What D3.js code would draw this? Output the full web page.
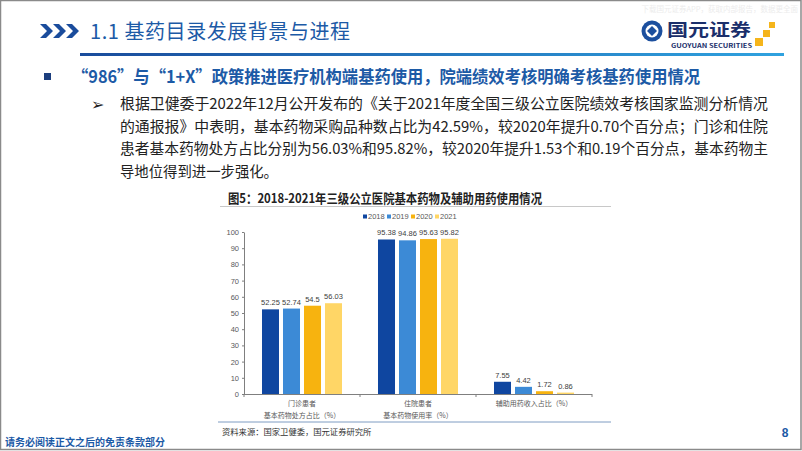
<!DOCTYPE html>
<html><head><meta charset="utf-8">
<script src="https://cdn.jsdelivr.net/npm/d3@7"></script>
<style>
html,body{margin:0;padding:0;background:#fff;}
svg{display:block;font-family:"Noto Sans CJK SC","Noto Sans",sans-serif;}
</style></head>
<body><svg id="c" width="802" height="451"></svg>
<script>
const categories = [["门诊患者","基本药物处方占比（%）"],["住院患者","基本药物使用率（%）"],["辅助用药收入占比（%）"]];
const years = ["2018","2019","2020","2021"];
const values2018 = [52.25, 95.38, 7.55];
const values2019 = [52.74, 94.86, 4.42];
const values2020 = [54.5, 95.63, 1.72];
const values2021 = [56.03, 95.82, 0.86];
const yTicks = [0,10,20,30,40,50,60,70,80,90,100];
const colors = ["#0F46A0","#3C8AD6","#F7B30F","#FFD666"];

const series = [values2018, values2019, values2020, values2021];
const svg = d3.select("#c");

// page frame
svg.append("rect").attr("x",0.5).attr("y",0.5).attr("width",800.5).attr("height",449).attr("fill","none").attr("stroke","#8a8a8a").attr("stroke-width",1.5);

// header chevrons
const chev = svg.append("g").attr("fill","#1A4C9C");
[40,53,66].forEach(x=>{
  chev.append("path").attr("d",`M${x},24 L${x+6},24 L${x+13},31 L${x+6},38 L${x},38 L${x+7},31 Z`);
});
svg.append("text").attr("x",90).attr("y",39).attr("font-size",20).attr("fill","#1C5AA6").attr("textLength",260).attr("lengthAdjust","spacing").text("1.1 基药目录发展背景与进程");

// header gradient line
const defs = svg.append("defs");
const lg = defs.append("linearGradient").attr("id","hg");
lg.append("stop").attr("offset","0%").attr("stop-color","#1A4C9C");
lg.append("stop").attr("offset","100%").attr("stop-color","#2FA2DF");
svg.append("rect").attr("x",80).attr("y",53).attr("width",704).attr("height",3).attr("fill","url(#hg)");

// watermark
svg.append("text").attr("x",798).attr("y",12).attr("text-anchor","end").attr("font-size",7.5).attr("fill","#ececec").text("下载国元证券APP，获取内部报告，数据更全面");

// logo
const lgG = svg.append("g");
lgG.append("circle").attr("cx",652).attr("cy",31).attr("r",10.5).attr("fill","#1C4F9E");
lgG.append("circle").attr("cx",652).attr("cy",31).attr("r",6.5).attr("fill","#fff");
lgG.append("path").attr("d","M652,26 L657,31 L652,36 L647,31 Z").attr("fill","#1C4F9E");
lgG.append("text").attr("x",667).attr("y",36).attr("font-size",17).attr("font-weight",700).attr("fill","#1B2F6B").attr("textLength",84).attr("lengthAdjust","spacingAndGlyphs").text("国元证券");
lgG.append("text").attr("x",671).attr("y",47.5).attr("font-size",6).attr("font-weight",700).attr("fill","#1B2F6B").attr("textLength",81).attr("lengthAdjust","spacingAndGlyphs").text("GUOYUAN SECURITIES");
[[755,38,8],[763,30,7],[769,22,6]].forEach(([x,y,s])=>lgG.append("rect").attr("x",x).attr("y",y).attr("width",s).attr("height",s).attr("fill","#F5B51B"));

// bullet heading
svg.append("rect").attr("x",44).attr("y",73).attr("width",7).attr("height",7).attr("fill","#1C3E7E");
svg.append("text").attr("x",72).attr("y",83).attr("font-size",17).attr("font-weight",600).attr("fill","#1C5AA6").attr("textLength",628).attr("lengthAdjust","spacingAndGlyphs").text("“986”与“1+X”政策推进医疗机构端基药使用，院端绩效考核明确考核基药使用情况");

// paragraph
svg.append("text").attr("x",91).attr("y",110).attr("font-size",16).attr("fill","#222").text("➢");
const para = [
  ["根据卫健委于2022年12月公开发布的《关于2021年度全国三级公立医院绩效考核国家监测分析情况", 648],
  ["的通报报》中表明，基本药物采购品种数占比为42.59%，较2020年提升0.70个百分点；门诊和住院", 648],
  ["患者基本药物处方占比分别为56.03%和95.82%，较2020年提升1.53个和0.19个百分点，基本药物主", 648],
  ["导地位得到进一步强化。", 158]
];
para.forEach((p,i)=>{
  svg.append("text").attr("x",120).attr("y",109+i*22.7).attr("font-size",15).attr("fill","#222")
    .attr("textLength",p[1]).attr("lengthAdjust","spacingAndGlyphs").text(p[0]);
});

// chart title
svg.append("text").attr("x",228).attr("y",203).attr("font-size",13).attr("font-weight",700).attr("fill","#222").attr("textLength",314).attr("lengthAdjust","spacingAndGlyphs").text("图5：2018-2021年三级公立医院基本药物及辅助用药使用情况");
svg.append("line").attr("x1",220).attr("x2",611).attr("y1",206.5).attr("y2",206.5).attr("stroke","#c8c8c8").attr("stroke-width",1);

// chart
const x0 = d3.scaleBand().domain(d3.range(categories.length)).range([244,592]).padding(0);
const x1 = d3.scaleBand().domain(years).range([0,x0.bandwidth()]).paddingInner(0.19).paddingOuter(0.857);
const y = d3.scaleLinear().domain([0,100]).range([394,232]);

const yAxis = d3.axisLeft(y).tickValues(yTicks).tickSize(2).tickSizeOuter(0);
const ya = svg.append("g").attr("transform","translate(244,0)").call(yAxis);
ya.select(".domain").attr("stroke","#7f7f7f");
ya.selectAll(".tick line").attr("stroke","#7f7f7f");
ya.selectAll("text").attr("font-size",7.5).attr("fill","#595959").attr("font-family","Liberation Sans, Arial, sans-serif").attr("x",-5);

const xa = svg.append("g");
xa.append("line").attr("x1",244).attr("x2",592).attr("y1",y(0)+0.5).attr("y2",y(0)+0.5).attr("stroke","#7f7f7f");
d3.range(categories.length+1).forEach(i=>{
  const xx = i<categories.length ? x0(i) : 592;
  xa.append("line").attr("x1",xx).attr("x2",xx).attr("y1",y(0)).attr("y2",y(0)+3).attr("stroke","#7f7f7f");
});

const grp = svg.append("g").selectAll("g").data(categories).join("g").attr("transform",(d,i)=>`translate(${x0(i)},0)`);
grp.each(function(cat,ci){
  const g = d3.select(this);
  years.forEach((yr,si)=>{
    const v = series[si][ci];
    g.append("rect").attr("x",x1(yr)).attr("y",y(v)).attr("width",x1.bandwidth()).attr("height",y(0)-y(v)).attr("fill",colors[si]);
    g.append("text").attr("x",x1(yr)+x1.bandwidth()/2).attr("y",y(v)-4).attr("text-anchor","middle").attr("font-size",7.5).attr("fill","#404040").attr("font-family","Liberation Sans, Arial, sans-serif").text(v);
  });
  cat.forEach((line,li)=>{
    g.append("text").attr("x",x0.bandwidth()/2).attr("y",406+li*12).attr("text-anchor","middle").attr("font-size",7).attr("fill","#595959").text(line);
  });
});

// legend
const lgd = svg.append("g");
const lx = [363,387,411,435];
years.forEach((yr,i)=>{
  lgd.append("rect").attr("x",lx[i]).attr("y",214.5).attr("width",4).attr("height",4).attr("fill",colors[i]);
  lgd.append("text").attr("x",lx[i]+5).attr("y",219).attr("font-size",7.5).attr("fill","#595959").attr("font-family","Liberation Sans, Arial, sans-serif").text(yr);
});

// source
svg.append("line").attr("x1",218).attr("x2",611).attr("y1",422).attr("y2",422).attr("stroke","#7f9cc2").attr("stroke-width",1);
svg.append("text").attr("x",222).attr("y",435).attr("font-size",8.3).attr("fill","#333").text("资料来源：国家卫健委，国元证券研究所");

// footer
svg.append("text").attr("x",5).attr("y",446).attr("font-size",10).attr("font-weight",700).attr("fill","#1C5AA6").text("请务必阅读正文之后的免责条款部分");
svg.append("text").attr("x",785).attr("y",437).attr("text-anchor","middle").attr("font-size",12).attr("font-weight",700).attr("fill","#1C5AA6").attr("font-family","Liberation Sans, Arial, sans-serif").text("8");
</script></body></html>
